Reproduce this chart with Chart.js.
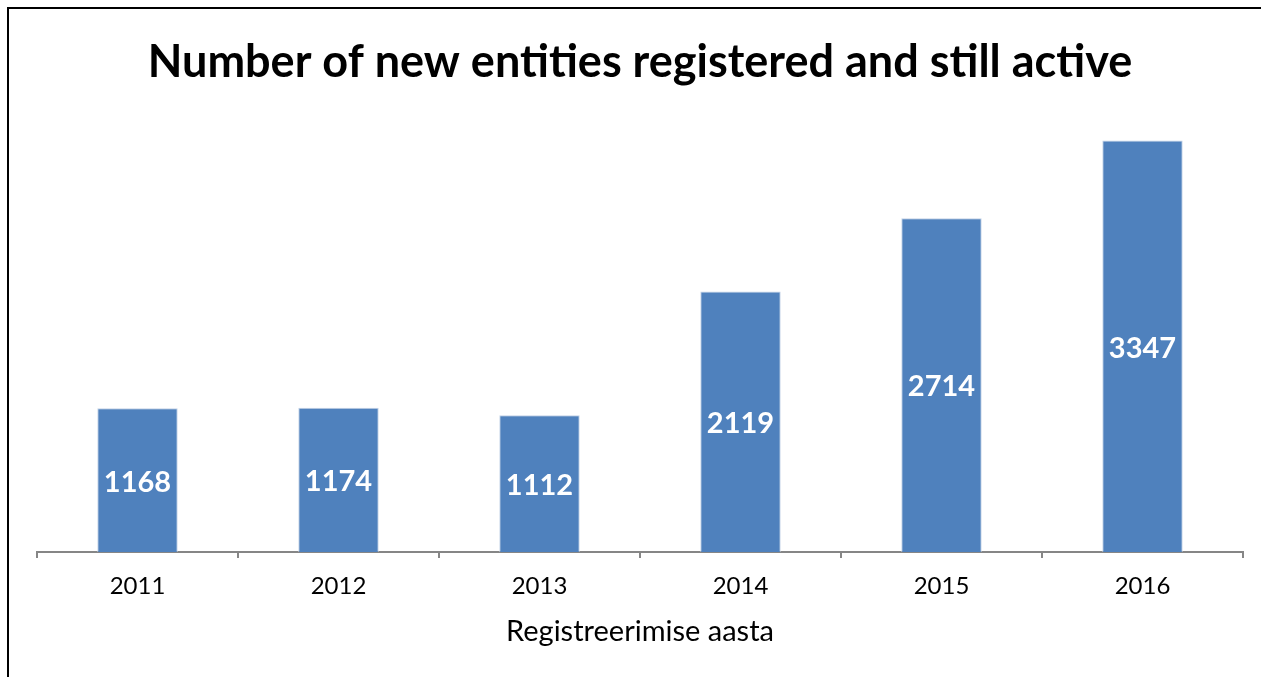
<!DOCTYPE html>
<html><head><meta charset="utf-8">
<script src="https://cdn.jsdelivr.net/npm/chart.js@4/dist/chart.umd.min.js"></script>
<style>
html,body{margin:0;padding:0;background:#fff;}
#wrap{position:relative;width:1261px;height:677px;overflow:hidden;}
#frame{position:absolute;left:7px;top:7px;width:1300px;height:700px;border-left:2px solid #000;border-top:2px solid #000;box-sizing:border-box;}
canvas{position:absolute;left:0;top:0;}
</style></head>
<body><div id="wrap"><div id="frame"></div><canvas id="c" width="1261" height="677"></canvas></div>
<script>
const categories = ['2011','2012','2013','2014','2015','2016'];
const values = [1168, 1174, 1112, 2119, 2714, 3347];
const titleText = 'Number of new entities registered and still active';
const xTitle = 'Registreerimise aasta';

const labelPlugin = {
  id:'inLabels',
  afterDatasetsDraw(chart){
    const ctx = chart.ctx;
    const meta = chart.getDatasetMeta(0);
    ctx.save();
    ctx.fillStyle = '#fff';
    ctx.font = 'bold 29px Lato';
    ctx.textAlign = 'center';
    ctx.textBaseline = 'middle';
    meta.data.forEach((bar,i)=>{
      const mid = (bar.y + bar.base)/2;
      ctx.fillText(String(values[i]), bar.x, mid + 2);
    });
    ctx.restore();
  }
};

new Chart(document.getElementById('c'), {
  type:'bar',
  data:{labels:categories, datasets:[{data:values, backgroundColor:'#4F81BD', borderColor:'#C3D2E6', borderWidth:1, barPercentage:0.4, categoryPercentage:1.0}]},
  options:{
    responsive:false, animation:false,
    layout:{padding:{left:37, right:18, top:35, bottom:0}},
    plugins:{
      legend:{display:false}, tooltip:{enabled:false},
      title:{display:true, text:titleText, color:'#000', font:{family:'Lato', size:45, weight:'bold'}, padding:{top:0,bottom:8}}
    },
    scales:{
      x:{
        afterFit(s){ s.height = 125; },
        grid:{drawOnChartArea:false, drawTicks:true, tickLength:6, color:'#868686', lineWidth:2, offset:true},
        border:{display:true, color:'#868686', width:2},
        ticks:{color:'#000', font:{family:'Lato', size:24}, padding:14, maxRotation:0},
        title:{display:true, text:xTitle, color:'#000', font:{family:'Lato', size:29}, padding:{top:0,bottom:28}}
      },
      y:{display:false, min:0, max:3700}
    }
  },
  plugins:[labelPlugin]
});
</script></body></html>
